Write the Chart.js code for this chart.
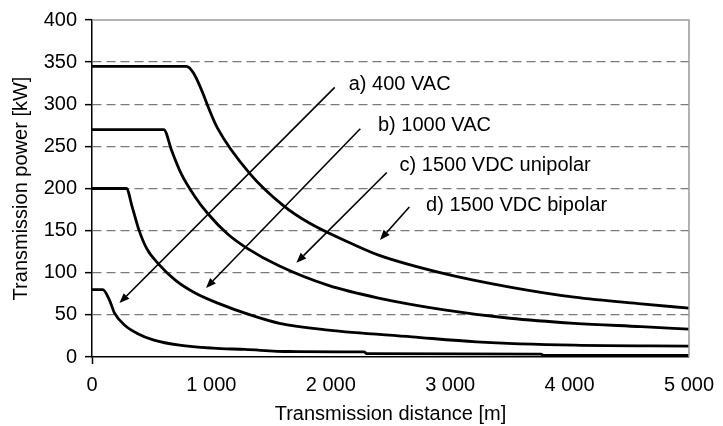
<!DOCTYPE html>
<html><head><meta charset="utf-8">
<script src="https://cdn.jsdelivr.net/npm/chart.js@4/dist/chart.umd.min.js"></script>
<style>html,body{margin:0;padding:0;background:#fff}</style>
</head><body>
<canvas id="c" width="723" height="426"></canvas>
<script>
// ---- data ----
const xTickValues = [0, 1000, 2000, 3000, 4000, 5000];
const yTickValues = [0, 50, 100, 150, 200, 250, 300, 350, 400];

const distA  = [0, 90, 148, 189, 272, 379, 519, 733, 1012, 1280, 1650, 2280, 2300, 3760, 3780, 5000];
const powerA = [80, 80, 67, 52, 38, 28, 20, 14, 10.5, 9, 6.5, 6, 4, 3.5, 2, 2];

const distB  = [0, 288, 337, 395, 461, 560, 700, 864, 1053, 1325, 1570, 1980, 2680, 3220, 4040, 5000];
const powerB = [200, 200, 178, 150, 128, 110, 91, 76, 64, 50, 40, 32, 24, 18, 14, 13];

const distC  = [0, 601, 667, 749, 864, 971, 1136, 1300, 1570, 1980, 2400, 2950, 3500, 4040, 4600, 5000];
const powerC = [270, 270, 245, 217, 190, 170, 146, 129, 108, 85, 70, 56, 46, 40, 36, 33];

const distD  = [0, 790, 850, 1050, 1320, 1600, 1820, 2200, 2400, 2950, 3500, 4040, 4600, 5000];
const powerD = [345, 345, 337, 272, 218, 180, 159, 133, 121, 99, 83, 71, 63, 58];

const seriesNames = ['a) 400 VAC', 'b) 1000 VAC', 'c) 1500 VDC unipolar', 'd) 1500 VDC bipolar'];
// annotation anchors in data units (distance, power)
const labelDist   = [2150, 2395, 2576, 2798];
const labelPower  = [324, 275, 227, 180];
const arrowFromDist  = [2033, 2247, 2469, 2658];
const arrowFromPower = [320, 271, 219, 178];
const arrowToDist    = [230, 955, 1712, 2412];
const arrowToPower   = [64, 82, 112, 139];

// ---- chart ----
const FONT = "'Liberation Sans', Arial, sans-serif";
const FS = 20;
const toPts = (xs, ys) => xs.map((x, i) => ({x: x, y: ys[i]}));
const fmt = v => String(v).replace(/\B(?=(\d{3})+(?!\d))/g, ' ');

const series = [[distA, powerA], [distB, powerB], [distC, powerC], [distD, powerD]];

const annotPlugin = {
  id: 'annot',
  afterDatasetsDraw(chart) {
    const {ctx, chartArea: a, scales: {x, y}} = chart;
    ctx.save();
    // top and right frame
    ctx.strokeStyle = '#9a9a9a';
    ctx.lineWidth = 1.5;
    ctx.beginPath();
    ctx.moveTo(a.left, a.top); ctx.lineTo(a.right, a.top); ctx.lineTo(a.right, a.bottom);
    ctx.stroke();
    // arrows
    ctx.strokeStyle = '#000';
    ctx.fillStyle = '#000';
    ctx.lineWidth = 1.6;
    for (let i = 0; i < seriesNames.length; i++) {
      const x1 = x.getPixelForValue(arrowFromDist[i]), y1 = y.getPixelForValue(arrowFromPower[i]);
      const x2 = x.getPixelForValue(arrowToDist[i]),   y2 = y.getPixelForValue(arrowToPower[i]);
      const ang = Math.atan2(y2 - y1, x2 - x1);
      const L = 10, W = 4;
      const bx = x2 - L * Math.cos(ang), by = y2 - L * Math.sin(ang);
      ctx.beginPath(); ctx.moveTo(x1, y1); ctx.lineTo(bx, by); ctx.stroke();
      ctx.beginPath();
      ctx.moveTo(x2, y2);
      ctx.lineTo(bx + W * Math.sin(ang), by - W * Math.cos(ang));
      ctx.lineTo(bx - W * Math.sin(ang), by + W * Math.cos(ang));
      ctx.closePath(); ctx.fill();
      ctx.font = FS + 'px ' + FONT;
      ctx.textAlign = 'left';
      ctx.textBaseline = 'middle';
      ctx.fillText(seriesNames[i], x.getPixelForValue(labelDist[i]), y.getPixelForValue(labelPower[i]));
    }
    ctx.restore();
  }
};

new Chart(document.getElementById('c'), {
  type: 'line',
  data: {
    datasets: series.map((s, i) => ({
      label: seriesNames[i],
      data: toPts(s[0], s[1]),
      borderColor: '#000',
      borderWidth: 2.8,
      pointRadius: 0,
      fill: false,
      cubicInterpolationMode: 'monotone',
      borderJoinStyle: 'round',
      borderCapStyle: 'round'
    }))
  },
  options: {
    responsive: false,
    animation: false,
    devicePixelRatio: 1,
    layout: {padding: {top: 19, right: 24, left: 0, bottom: 0}},
    plugins: {legend: {display: false}, tooltip: {enabled: false}},
    scales: {
      x: {
        type: 'linear',
        min: 0, max: 5000,
        afterBuildTicks: s => { s.ticks = xTickValues.map(v => ({value: v})); },
        afterFit: s => { s.height = 69; },
        ticks: {
          callback: v => fmt(v),
          color: '#000',
          font: {family: FONT, size: FS},
          padding: 9,
          maxRotation: 0
        },
        grid: {
          drawOnChartArea: false,
          tickLength: 7,
          tickWidth: 1.5,
          tickColor: c => (c.tick && c.tick.value === 0) ? '#000' : 'rgba(0,0,0,0)'
        },
        border: {color: '#000', width: 1.5},
        title: {
          display: true,
          text: 'Transmission distance [m]',
          color: '#000',
          font: {family: FONT, size: FS},
          padding: {top: 0, bottom: 0}
        }
      },
      y: {
        min: 0, max: 400,
        afterBuildTicks: s => { s.ticks = yTickValues.map(v => ({value: v})); },
        afterFit: s => { s.width = 92; },
        ticks: {
          color: '#000',
          font: {family: FONT, size: FS},
          padding: 8
        },
        grid: {
          color: c => (c.tick && (c.tick.value === 0 || c.tick.value === 400)) ? 'rgba(0,0,0,0)' : '#7a7a7a',
          lineWidth: 1.3,
          tickLength: 7,
          tickWidth: 1.5,
          tickColor: '#000',
          tickBorderDash: []
        },
        border: {color: '#000', width: 1.5, dash: [9, 5]},
        title: {
          display: true,
          text: 'Transmission power [kW]',
          color: '#000',
          font: {family: FONT, size: FS},
          padding: {top: 9, bottom: 0}
        }
      }
    }
  },
  plugins: [annotPlugin]
});
</script>
</body></html>
